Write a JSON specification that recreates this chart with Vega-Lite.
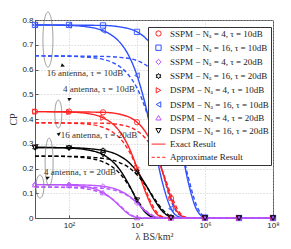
{
"$schema":"https://vega.github.io/schema/vega-lite/v6.json",
"width":238,"height":198,
"autosize":{"type":"none"},
"padding":{"left":35,"top":20,"right":18,"bottom":31},
"background":"white",
"config":{
"view":{"stroke":"#555","strokeWidth":1},
"axis":{"domainColor":"#555","gridColor":"#bbb","gridDash":[1,2],"gridWidth":0.8,"labelFont":"Liberation Sans","labelFontSize":8,"labelColor":"#222","titleFont":"Liberation Serif","titleFontSize":10,"titleFontWeight":"normal","titleColor":"#333","labelOverlap":false,"tickColor":"#555","tickSize":-3},
"legend":{"orient":"none","legendX":113,"legendY":7,"padding":2,"fillColor":"white","strokeColor":"#333","labelFont":"Liberation Serif","labelFontSize":9,"labelColor":"#222","symbolSize":28,"symbolStrokeWidth":1,"rowPadding":3.2,"labelOffset":7,"symbolOffset":4,"labelLimit":300}
},
"datasets":{
"curves":[
{"g":"b","s":"S","k":"e","x":10,"y":0.78},{"g":"b","s":"S","k":"e","x":1000,"y":0.778},{"g":"b","s":"S","k":"e","x":3162,"y":0.772},{"g":"b","s":"S","k":"e","x":10000,"y":0.752},{"g":"b","s":"S","k":"e","x":17783,"y":0.727},{"g":"b","s":"S","k":"e","x":31623,"y":0.684},{"g":"b","s":"S","k":"e","x":56234,"y":0.609},{"g":"b","s":"S","k":"e","x":100000,"y":0.489},{"g":"b","s":"S","k":"e","x":177828,"y":0.324},{"g":"b","s":"S","k":"e","x":316228,"y":0.149},{"g":"b","s":"S","k":"e","x":562341,"y":0.035},{"g":"b","s":"S","k":"e","x":1000000,"y":0.002},{"g":"b","s":"S","k":"e","x":1778279,"y":0},{"g":"b","s":"S","k":"e","x":100000000,"y":0},
{"g":"b","s":"S","k":"a","x":10,"y":0.655},{"g":"b","s":"S","k":"a","x":1000,"y":0.653},{"g":"b","s":"S","k":"a","x":3162,"y":0.649},{"g":"b","s":"S","k":"a","x":10000,"y":0.636},{"g":"b","s":"S","k":"a","x":17783,"y":0.619},{"g":"b","s":"S","k":"a","x":31623,"y":0.588},{"g":"b","s":"S","k":"a","x":56234,"y":0.535},{"g":"b","s":"S","k":"a","x":100000,"y":0.447},{"g":"b","s":"S","k":"a","x":177828,"y":0.319},{"g":"b","s":"S","k":"a","x":316228,"y":0.169},{"g":"b","s":"S","k":"a","x":562341,"y":0.051},{"g":"b","s":"S","k":"a","x":1000000,"y":0.005},{"g":"b","s":"S","k":"a","x":1778279,"y":0},{"g":"b","s":"S","k":"a","x":100000000,"y":0},
{"g":"b","s":"D","k":"e","x":10,"y":0.78},{"g":"b","s":"D","k":"e","x":100,"y":0.778},{"g":"b","s":"D","k":"e","x":316,"y":0.773},{"g":"b","s":"D","k":"e","x":1000,"y":0.757},{"g":"b","s":"D","k":"e","x":1778,"y":0.739},{"g":"b","s":"D","k":"e","x":3162,"y":0.709},{"g":"b","s":"D","k":"e","x":5623,"y":0.658},{"g":"b","s":"D","k":"e","x":10000,"y":0.576},{"g":"b","s":"D","k":"e","x":17783,"y":0.455},{"g":"b","s":"D","k":"e","x":31623,"y":0.299},{"g":"b","s":"D","k":"e","x":56234,"y":0.142},{"g":"b","s":"D","k":"e","x":100000,"y":0.038},{"g":"b","s":"D","k":"e","x":177828,"y":0.004},{"g":"b","s":"D","k":"e","x":316228,"y":0},{"g":"b","s":"D","k":"e","x":100000000,"y":0},
{"g":"b","s":"D","k":"a","x":10,"y":0.655},{"g":"b","s":"D","k":"a","x":100,"y":0.6535},{"g":"b","s":"D","k":"a","x":316,"y":0.65},{"g":"b","s":"D","k":"a","x":1000,"y":0.641},{"g":"b","s":"D","k":"a","x":1778,"y":0.63},{"g":"b","s":"D","k":"a","x":3162,"y":0.611},{"g":"b","s":"D","k":"a","x":5623,"y":0.578},{"g":"b","s":"D","k":"a","x":10000,"y":0.525},{"g":"b","s":"D","k":"a","x":17783,"y":0.441},{"g":"b","s":"D","k":"a","x":31623,"y":0.324},{"g":"b","s":"D","k":"a","x":56234,"y":0.188},{"g":"b","s":"D","k":"a","x":100000,"y":0.071},{"g":"b","s":"D","k":"a","x":177828,"y":0.013},{"g":"b","s":"D","k":"a","x":316228,"y":0.001},{"g":"b","s":"D","k":"a","x":562341,"y":0},{"g":"b","s":"D","k":"a","x":100000000,"y":0},
{"g":"r","s":"S","k":"e","x":10,"y":0.43},{"g":"r","s":"S","k":"e","x":1000,"y":0.427},{"g":"r","s":"S","k":"e","x":3162,"y":0.419},{"g":"r","s":"S","k":"e","x":10000,"y":0.387},{"g":"r","s":"S","k":"e","x":17783,"y":0.348},{"g":"r","s":"S","k":"e","x":31623,"y":0.282},{"g":"r","s":"S","k":"e","x":56234,"y":0.186},{"g":"r","s":"S","k":"e","x":100000,"y":0.08},{"g":"r","s":"S","k":"e","x":177828,"y":0.015},{"g":"r","s":"S","k":"e","x":316228,"y":0.0005},{"g":"r","s":"S","k":"e","x":562341,"y":0},{"g":"r","s":"S","k":"e","x":100000000,"y":0},
{"g":"r","s":"S","k":"a","x":10,"y":0.385},{"g":"r","s":"S","k":"a","x":1000,"y":0.383},{"g":"r","s":"S","k":"a","x":3162,"y":0.377},{"g":"r","s":"S","k":"a","x":10000,"y":0.352},{"g":"r","s":"S","k":"a","x":17783,"y":0.322},{"g":"r","s":"S","k":"a","x":31623,"y":0.27},{"g":"r","s":"S","k":"a","x":56234,"y":0.19},{"g":"r","s":"S","k":"a","x":100000,"y":0.094},{"g":"r","s":"S","k":"a","x":177828,"y":0.023},{"g":"r","s":"S","k":"a","x":316228,"y":0.001},{"g":"r","s":"S","k":"a","x":562341,"y":0},{"g":"r","s":"S","k":"a","x":100000000,"y":0},
{"g":"r","s":"D","k":"e","x":10,"y":0.43},{"g":"r","s":"D","k":"e","x":100,"y":0.428},{"g":"r","s":"D","k":"e","x":316,"y":0.423},{"g":"r","s":"D","k":"e","x":1000,"y":0.405},{"g":"r","s":"D","k":"e","x":1778,"y":0.384},{"g":"r","s":"D","k":"e","x":3162,"y":0.348},{"g":"r","s":"D","k":"e","x":5623,"y":0.289},{"g":"r","s":"D","k":"e","x":10000,"y":0.203},{"g":"r","s":"D","k":"e","x":17783,"y":0.105},{"g":"r","s":"D","k":"e","x":31623,"y":0.03},{"g":"r","s":"D","k":"e","x":56234,"y":0.003},{"g":"r","s":"D","k":"e","x":100000,"y":0},{"g":"r","s":"D","k":"e","x":100000000,"y":0},
{"g":"r","s":"D","k":"a","x":10,"y":0.385},{"g":"r","s":"D","k":"a","x":100,"y":0.383},{"g":"r","s":"D","k":"a","x":316,"y":0.38},{"g":"r","s":"D","k":"a","x":1000,"y":0.366},{"g":"r","s":"D","k":"a","x":1778,"y":0.35},{"g":"r","s":"D","k":"a","x":3162,"y":0.322},{"g":"r","s":"D","k":"a","x":5623,"y":0.274},{"g":"r","s":"D","k":"a","x":10000,"y":0.203},{"g":"r","s":"D","k":"a","x":17783,"y":0.115},{"g":"r","s":"D","k":"a","x":31623,"y":0.04},{"g":"r","s":"D","k":"a","x":56234,"y":0.005},{"g":"r","s":"D","k":"a","x":100000,"y":0},{"g":"r","s":"D","k":"a","x":100000000,"y":0},
{"g":"k","s":"S","k":"e","x":10,"y":0.285},{"g":"k","s":"S","k":"e","x":100,"y":0.284},{"g":"k","s":"S","k":"e","x":316,"y":0.281},{"g":"k","s":"S","k":"e","x":1000,"y":0.273},{"g":"k","s":"S","k":"e","x":1778,"y":0.265},{"g":"k","s":"S","k":"e","x":3162,"y":0.25},{"g":"k","s":"S","k":"e","x":5623,"y":0.226},{"g":"k","s":"S","k":"e","x":10000,"y":0.188},{"g":"k","s":"S","k":"e","x":17783,"y":0.136},{"g":"k","s":"S","k":"e","x":31623,"y":0.076},{"g":"k","s":"S","k":"e","x":56234,"y":0.027},{"g":"k","s":"S","k":"e","x":100000,"y":0.004},{"g":"k","s":"S","k":"e","x":177828,"y":0},{"g":"k","s":"S","k":"e","x":100000000,"y":0},
{"g":"k","s":"S","k":"a","x":10,"y":0.25},{"g":"k","s":"S","k":"a","x":100,"y":0.249},{"g":"k","s":"S","k":"a","x":316,"y":0.247},{"g":"k","s":"S","k":"a","x":1000,"y":0.241},{"g":"k","s":"S","k":"a","x":1778,"y":0.235},{"g":"k","s":"S","k":"a","x":3162,"y":0.223},{"g":"k","s":"S","k":"a","x":5623,"y":0.205},{"g":"k","s":"S","k":"a","x":10000,"y":0.175},{"g":"k","s":"S","k":"a","x":17783,"y":0.133},{"g":"k","s":"S","k":"a","x":31623,"y":0.081},{"g":"k","s":"S","k":"a","x":56234,"y":0.034},{"g":"k","s":"S","k":"a","x":100000,"y":0.007},{"g":"k","s":"S","k":"a","x":177828,"y":0},{"g":"k","s":"S","k":"a","x":100000000,"y":0},
{"g":"k","s":"D","k":"e","x":10,"y":0.285},{"g":"k","s":"D","k":"e","x":100,"y":0.2825},{"g":"k","s":"D","k":"e","x":316,"y":0.276},{"g":"k","s":"D","k":"e","x":1000,"y":0.256},{"g":"k","s":"D","k":"e","x":1778,"y":0.232},{"g":"k","s":"D","k":"e","x":3162,"y":0.194},{"g":"k","s":"D","k":"e","x":5623,"y":0.138},{"g":"k","s":"D","k":"e","x":10000,"y":0.072},{"g":"k","s":"D","k":"e","x":17783,"y":0.022},{"g":"k","s":"D","k":"e","x":31623,"y":0.002},{"g":"k","s":"D","k":"e","x":56234,"y":0},{"g":"k","s":"D","k":"e","x":100000000,"y":0},
{"g":"k","s":"D","k":"a","x":10,"y":0.25},{"g":"k","s":"D","k":"a","x":100,"y":0.248},{"g":"k","s":"D","k":"a","x":316,"y":0.243},{"g":"k","s":"D","k":"a","x":1000,"y":0.227},{"g":"k","s":"D","k":"a","x":1778,"y":0.209},{"g":"k","s":"D","k":"a","x":3162,"y":0.179},{"g":"k","s":"D","k":"a","x":5623,"y":0.133},{"g":"k","s":"D","k":"a","x":10000,"y":0.076},{"g":"k","s":"D","k":"a","x":17783,"y":0.026},{"g":"k","s":"D","k":"a","x":31623,"y":0.004},{"g":"k","s":"D","k":"a","x":56234,"y":0},{"g":"k","s":"D","k":"a","x":100000000,"y":0},
{"g":"m","s":"S","k":"e","x":10,"y":0.135},{"g":"m","s":"S","k":"e","x":100,"y":0.1346},{"g":"m","s":"S","k":"e","x":316,"y":0.133},{"g":"m","s":"S","k":"e","x":1000,"y":0.128},{"g":"m","s":"S","k":"e","x":1778,"y":0.122},{"g":"m","s":"S","k":"e","x":3162,"y":0.11},{"g":"m","s":"S","k":"e","x":5623,"y":0.09},{"g":"m","s":"S","k":"e","x":10000,"y":0.061},{"g":"m","s":"S","k":"e","x":17783,"y":0.027},{"g":"m","s":"S","k":"e","x":31623,"y":0.006},{"g":"m","s":"S","k":"e","x":56234,"y":0},{"g":"m","s":"S","k":"e","x":100000000,"y":0},
{"g":"m","s":"S","k":"a","x":10,"y":0.125},{"g":"m","s":"S","k":"a","x":100,"y":0.1247},{"g":"m","s":"S","k":"a","x":316,"y":0.124},{"g":"m","s":"S","k":"a","x":1000,"y":0.12},{"g":"m","s":"S","k":"a","x":1778,"y":0.115},{"g":"m","s":"S","k":"a","x":3162,"y":0.105},{"g":"m","s":"S","k":"a","x":5623,"y":0.088},{"g":"m","s":"S","k":"a","x":10000,"y":0.062},{"g":"m","s":"S","k":"a","x":17783,"y":0.031},{"g":"m","s":"S","k":"a","x":31623,"y":0.008},{"g":"m","s":"S","k":"a","x":56234,"y":0.0005},{"g":"m","s":"S","k":"a","x":100000,"y":0},{"g":"m","s":"S","k":"a","x":100000000,"y":0},
{"g":"m","s":"D","k":"e","x":10,"y":0.135},{"g":"m","s":"D","k":"e","x":100,"y":0.133},{"g":"m","s":"D","k":"e","x":316,"y":0.126},{"g":"m","s":"D","k":"e","x":562,"y":0.118},{"g":"m","s":"D","k":"e","x":1000,"y":0.103},{"g":"m","s":"D","k":"e","x":1778,"y":0.079},{"g":"m","s":"D","k":"e","x":3162,"y":0.047},{"g":"m","s":"D","k":"e","x":5623,"y":0.016},{"g":"m","s":"D","k":"e","x":10000,"y":0.002},{"g":"m","s":"D","k":"e","x":17783,"y":0},{"g":"m","s":"D","k":"e","x":100000000,"y":0},
{"g":"m","s":"D","k":"a","x":10,"y":0.125},{"g":"m","s":"D","k":"a","x":100,"y":0.123},{"g":"m","s":"D","k":"a","x":316,"y":0.118},{"g":"m","s":"D","k":"a","x":562,"y":0.111},{"g":"m","s":"D","k":"a","x":1000,"y":0.099},{"g":"m","s":"D","k":"a","x":1778,"y":0.079},{"g":"m","s":"D","k":"a","x":3162,"y":0.05},{"g":"m","s":"D","k":"a","x":5623,"y":0.02},{"g":"m","s":"D","k":"a","x":10000,"y":0.003},{"g":"m","s":"D","k":"a","x":17783,"y":0},{"g":"m","s":"D","k":"a","x":100000000,"y":0}
],
"markers":[
{"p":"SSPM − Nₐ = 4, τ = 10dB","x":10,"y":0.43},{"p":"SSPM − Nₐ = 4, τ = 10dB","x":100,"y":0.43},{"p":"SSPM − Nₐ = 4, τ = 10dB","x":1000,"y":0.427},{"p":"SSPM − Nₐ = 4, τ = 10dB","x":10000,"y":0.387},{"p":"SSPM − Nₐ = 4, τ = 10dB","x":100000,"y":0.08},{"p":"SSPM − Nₐ = 4, τ = 10dB","x":1000000,"y":0},{"p":"SSPM − Nₐ = 4, τ = 10dB","x":10000000,"y":0},{"p":"SSPM − Nₐ = 4, τ = 10dB","x":100000000,"y":0},
{"p":"SSPM − Nₐ = 16, τ = 10dB","x":10,"y":0.78},{"p":"SSPM − Nₐ = 16, τ = 10dB","x":100,"y":0.78},{"p":"SSPM − Nₐ = 16, τ = 10dB","x":1000,"y":0.778},{"p":"SSPM − Nₐ = 16, τ = 10dB","x":10000,"y":0.752},{"p":"SSPM − Nₐ = 16, τ = 10dB","x":100000,"y":0.489},{"p":"SSPM − Nₐ = 16, τ = 10dB","x":1000000,"y":0.002},{"p":"SSPM − Nₐ = 16, τ = 10dB","x":10000000,"y":0},{"p":"SSPM − Nₐ = 16, τ = 10dB","x":100000000,"y":0},
{"p":"SSPM − Nₐ = 4, τ = 20dB","x":10,"y":0.135},{"p":"SSPM − Nₐ = 4, τ = 20dB","x":100,"y":0.135},{"p":"SSPM − Nₐ = 4, τ = 20dB","x":1000,"y":0.128},{"p":"SSPM − Nₐ = 4, τ = 20dB","x":10000,"y":0.061},{"p":"SSPM − Nₐ = 4, τ = 20dB","x":100000,"y":0},{"p":"SSPM − Nₐ = 4, τ = 20dB","x":1000000,"y":0},{"p":"SSPM − Nₐ = 4, τ = 20dB","x":10000000,"y":0},{"p":"SSPM − Nₐ = 4, τ = 20dB","x":100000000,"y":0},
{"p":"SSPM − Nₐ = 16, τ = 20dB","x":10,"y":0.285},{"p":"SSPM − Nₐ = 16, τ = 20dB","x":100,"y":0.284},{"p":"SSPM − Nₐ = 16, τ = 20dB","x":1000,"y":0.273},{"p":"SSPM − Nₐ = 16, τ = 20dB","x":10000,"y":0.188},{"p":"SSPM − Nₐ = 16, τ = 20dB","x":100000,"y":0.004},{"p":"SSPM − Nₐ = 16, τ = 20dB","x":1000000,"y":0},{"p":"SSPM − Nₐ = 16, τ = 20dB","x":10000000,"y":0},{"p":"SSPM − Nₐ = 16, τ = 20dB","x":100000000,"y":0},
{"p":"DSPM − Nₐ = 4, τ = 10dB","x":10,"y":0.43},{"p":"DSPM − Nₐ = 4, τ = 10dB","x":100,"y":0.428},{"p":"DSPM − Nₐ = 4, τ = 10dB","x":1000,"y":0.405},{"p":"DSPM − Nₐ = 4, τ = 10dB","x":10000,"y":0.203},{"p":"DSPM − Nₐ = 4, τ = 10dB","x":100000,"y":0},{"p":"DSPM − Nₐ = 4, τ = 10dB","x":1000000,"y":0},{"p":"DSPM − Nₐ = 4, τ = 10dB","x":10000000,"y":0},{"p":"DSPM − Nₐ = 4, τ = 10dB","x":100000000,"y":0},
{"p":"DSPM − Nₐ = 16, τ = 10dB","x":10,"y":0.78},{"p":"DSPM − Nₐ = 16, τ = 10dB","x":100,"y":0.778},{"p":"DSPM − Nₐ = 16, τ = 10dB","x":1000,"y":0.757},{"p":"DSPM − Nₐ = 16, τ = 10dB","x":10000,"y":0.576},{"p":"DSPM − Nₐ = 16, τ = 10dB","x":100000,"y":0.038},{"p":"DSPM − Nₐ = 16, τ = 10dB","x":1000000,"y":0},{"p":"DSPM − Nₐ = 16, τ = 10dB","x":10000000,"y":0},{"p":"DSPM − Nₐ = 16, τ = 10dB","x":100000000,"y":0},
{"p":"DSPM − Nₐ = 4, τ = 20dB","x":10,"y":0.135},{"p":"DSPM − Nₐ = 4, τ = 20dB","x":100,"y":0.133},{"p":"DSPM − Nₐ = 4, τ = 20dB","x":1000,"y":0.103},{"p":"DSPM − Nₐ = 4, τ = 20dB","x":10000,"y":0.002},{"p":"DSPM − Nₐ = 4, τ = 20dB","x":100000,"y":0},{"p":"DSPM − Nₐ = 4, τ = 20dB","x":1000000,"y":0},{"p":"DSPM − Nₐ = 4, τ = 20dB","x":10000000,"y":0},{"p":"DSPM − Nₐ = 4, τ = 20dB","x":100000000,"y":0},
{"p":"DSPM − Nₐ = 16, τ = 20dB","x":10,"y":0.285},{"p":"DSPM − Nₐ = 16, τ = 20dB","x":100,"y":0.2825},{"p":"DSPM − Nₐ = 16, τ = 20dB","x":1000,"y":0.256},{"p":"DSPM − Nₐ = 16, τ = 20dB","x":10000,"y":0.072},{"p":"DSPM − Nₐ = 16, τ = 20dB","x":100000,"y":0},{"p":"DSPM − Nₐ = 16, τ = 20dB","x":1000000,"y":0},{"p":"DSPM − Nₐ = 16, τ = 20dB","x":10000000,"y":0},{"p":"DSPM − Nₐ = 16, τ = 20dB","x":100000000,"y":0}
],
"notes":[{"id":"e1","x":24,"y":0.721},{"id":"e2","x":48.5,"y":0.42},{"id":"e3","x":26,"y":0.226},{"id":"e4","x":14,"y":0.127}],
"labels":[{"t":"16 antenna, τ = 10dB","x":295,"y":0.587},{"t":"4 antenna, τ = 10dB","x":762,"y":0.52},{"t":"16 antenna, τ = 20dB","x":762,"y":0.335},{"t":"4 antenna, τ = 20dB","x":211,"y":0.187}]
},
"encoding":{
"x":{"field":"x","type":"quantitative","scale":{"type":"log","domain":[10,100000000],"nice":false},"axis":{"title":"λ BS/km²","values":[100,10000,1000000,100000000],"labelExpr":"datum.value < 1000 ? '10²' : datum.value < 100000 ? '10⁴' : datum.value < 10000000 ? '10⁶' : '10⁸'","grid":true,"labelPadding":6,"titlePadding":2,"labelFlush":false}},
"y":{"field":"y","type":"quantitative","scale":{"domain":[0,0.8],"nice":false,"zero":false},"axis":{"title":"CP","values":[0,0.1,0.2,0.3,0.4,0.5,0.6,0.7,0.8],"labelExpr":"datum.value == 0 ? '0' : format(datum.value, '.1f')","grid":true,"labelPadding":5,"titlePadding":3,"labelFlush":false}}
},
"layer":[
{"data":{"name":"curves"},"mark":{"type":"line","interpolate":"monotone","strokeWidth":1.4},
"encoding":{"color":{"field":"g","type":"nominal","scale":{"domain":["b","r","k","m"],"range":["#2f50ff","#ff2222","#000000","#bb55ff"]},"legend":null},
"strokeDash":{"field":"k","type":"nominal","scale":{"domain":["e","a"],"range":[[1,0],[4,2.5]]},"legend":null},
"detail":{"field":"s","type":"nominal"}}},
{"data":{"name":"markers"},"mark":{"type":"point","filled":false,"opacity":1,"size":28,"strokeWidth":0.9},
"encoding":{
"color":{"field":"p","type":"nominal","scale":{"domain":["SSPM − Nₐ = 4, τ = 10dB","SSPM − Nₐ = 16, τ = 10dB","SSPM − Nₐ = 4, τ = 20dB","SSPM − Nₐ = 16, τ = 20dB","DSPM − Nₐ = 4, τ = 10dB","DSPM − Nₐ = 16, τ = 10dB","DSPM − Nₐ = 4, τ = 20dB","DSPM − Nₐ = 16, τ = 20dB","Exact Result","Approximate Result"],"range":["#ff2222","#2f50ff","#bb55ff","#000000","#ff2222","#2f50ff","#bb55ff","#000000","#ff2222","#ff2222"]},"legend":{"title":null}},
"shape":{"field":"p","type":"nominal","scale":{"domain":["SSPM − Nₐ = 4, τ = 10dB","SSPM − Nₐ = 16, τ = 10dB","SSPM − Nₐ = 4, τ = 20dB","SSPM − Nₐ = 16, τ = 20dB","DSPM − Nₐ = 4, τ = 10dB","DSPM − Nₐ = 16, τ = 10dB","DSPM − Nₐ = 4, τ = 20dB","DSPM − Nₐ = 16, τ = 20dB","Exact Result","Approximate Result"],"range":["circle","square","diamond","M0,-1L0.289,-0.5L0.866,-0.5L0.577,0L0.866,0.5L0.289,0.5L0,1L-0.289,0.5L-0.866,0.5L-0.577,0L-0.866,-0.5L-0.289,-0.5Z","triangle-right","triangle-left","triangle-up","triangle-down","M-2.6,0H2.6","M-2.6,0H-1.4M-0.6,0H0.6M1.4,0H2.6"]},"legend":{"title":null}}}},
{"data":{"name":"notes"},"mark":{"type":"point","filled":false,"opacity":1,"size":4,"strokeWidth":0.7,"color":"#777"},
"encoding":{"shape":{"field":"id","type":"nominal","scale":{"domain":["e1","e2","e3","e4"],"range":["M0,-27.5A5,27.5,0,1,1,0,27.5A5,27.5,0,1,1,0,-27.5Z","M0,-14A3.5,14,0,1,1,0,14A3.5,14,0,1,1,0,-14Z","M0,-24A4,24,0,1,1,0,24A4,24,0,1,1,0,-24Z","M0,-11.5A4,11.5,0,1,1,0,11.5A4,11.5,0,1,1,0,-11.5Z"]},"legend":null}}},
{"data":{"name":"notes"},"mark":{"type":"point","filled":true,"opacity":1,"size":4,"strokeWidth":0.7,"color":"#111"},
"encoding":{"shape":{"field":"id","type":"nominal","scale":{"domain":["e1","e2","e3","e4"],"range":["M5,22L13.3,25.5M17,27L12.6,27.1L14,23.8Z","M2.5,-11L9.9,-14.3M13.5,-16L10.6,-12.7L9.1,-16Z","M2.7,-22L8.7,-27.1M11.7,-29.7L9.8,-25.7L7.5,-28.5Z","M0.7,-5.8L6.3,-8.2M10,-9.8L7,-6.5L5.6,-9.9Z"]},"legend":null}}},
{"data":{"name":"labels"},"mark":{"type":"text","font":"Liberation Serif","fontSize":9,"color":"#333","align":"center","baseline":"middle"},
"encoding":{"text":{"field":"t","type":"nominal"}}}
],
"resolve":{"scale":{"color":"independent","shape":"independent"}}
}
